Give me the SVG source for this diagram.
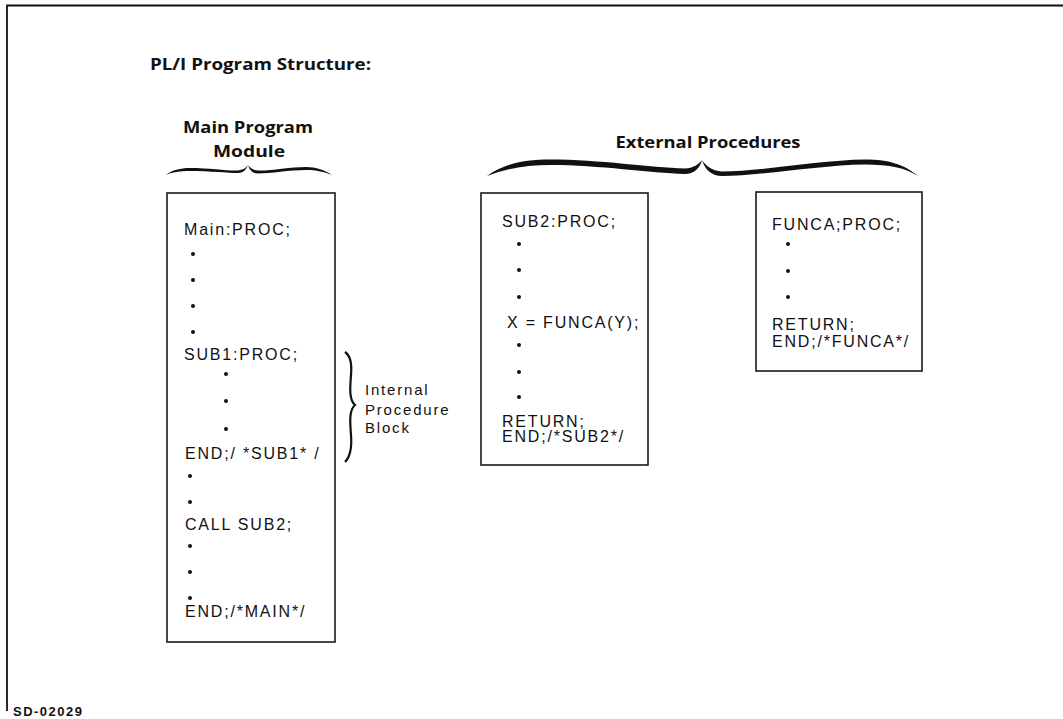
<svg xmlns="http://www.w3.org/2000/svg" width="1063" height="719" viewBox="0 0 1063 719">
<style>
.head{font-family:"Open Sans","Liberation Sans",sans-serif;font-weight:700;fill:#111}
.code{font-family:"Liberation Sans",Arial,sans-serif;font-size:16px;letter-spacing:1.8px;fill:#111}
.lbl{font-family:"Liberation Sans",Arial,sans-serif;font-size:15px;letter-spacing:1.8px;fill:#111}
.box{fill:#fff;stroke:#1a1a1a;stroke-width:1.6}
.dot{fill:#111}
.brace{fill:#111}
</style>
<rect width="1063" height="719" fill="#fff"/>
<g id="frame" fill="none" stroke="#111" stroke-width="1.8">
<path d="M7,711 L7,5.5 L1063,5.5"/>
</g>
<text class="head" x="150" y="70" font-size="15.5" textLength="221" lengthAdjust="spacingAndGlyphs">PL/I Program Structure:</text>
<text class="head" x="248" y="133" font-size="16.5" text-anchor="middle" textLength="130" lengthAdjust="spacingAndGlyphs">Main Program</text>
<text class="head" x="249" y="157" font-size="16.5" text-anchor="middle" textLength="72" lengthAdjust="spacingAndGlyphs">Module</text>
<text class="head" x="708" y="148" font-size="16.5" text-anchor="middle" textLength="185" lengthAdjust="spacingAndGlyphs">External Procedures</text>
<g id="connectors">
<path class="brace" d="M166,175 C172,170 180,168 190,168 C210,168 228,171 238,170.5 C243,170 246,168 248,165 C246,170 243,173 238,173 C228,173 210,171 190,171 C180,171 172,172 166,175 Z"/>
<path class="brace" d="M248,165 C250,168 253,170 258,170.5 C270,171 290,167 306,167 C316,167 325,170 332,175 C325,172 316,170 306,170 C290,170 270,173.5 258,173.5 C253,173.5 250,171 248,165 Z"/>
<path class="brace" d="M487,176 C505,163 525,159.5 550,159.5 C600,159.5 650,167.5 685,168.5 C693,168.5 699,164 702,160 C700,168 694,174 685,174 C650,173 600,165 550,165 C528,165 507,168 487,176 Z"/>
<path class="brace" d="M702,160 C705,165 712,171 722,171.5 C760,171.5 820,160 865,159.5 C890,159.5 905,165 918,176 C905,168 890,164.5 865,164.5 C820,165 760,176 722,176 C712,176 705,170 702,160 Z"/>
<path d="M345,352 C351,356 352,364 351,375 C350,388 349,400 355,405 C349,410 350,422 351,435 C352,448 350,457 345,462" fill="none" stroke="#111" stroke-width="2.2"/>
</g>
<g id="main">
<rect class="box" x="167" y="193" width="168" height="449"/>
<text class="code" x="184" y="235">Main:PROC;</text>
<circle class="dot" cx="193" cy="254" r="2"/>
<circle class="dot" cx="193" cy="280" r="2"/>
<circle class="dot" cx="193" cy="306" r="2"/>
<circle class="dot" cx="193" cy="332" r="2"/>
<text class="code" x="184" y="360">SUB1:PROC;</text>
<circle class="dot" cx="226" cy="374" r="2"/>
<circle class="dot" cx="226" cy="401" r="2"/>
<circle class="dot" cx="226" cy="429" r="2"/>
<text class="code" x="185" y="459">END;/ *SUB1* /</text>
<circle class="dot" cx="190" cy="476" r="2"/>
<circle class="dot" cx="190" cy="502" r="2"/>
<text class="code" x="185" y="530">CALL SUB2;</text>
<circle class="dot" cx="190" cy="546" r="2"/>
<circle class="dot" cx="190" cy="572" r="2"/>
<circle class="dot" cx="190" cy="598" r="2"/>
<text class="code" x="185" y="617">END;/*MAIN*/</text>
</g>
<g id="internal-label">
<text class="lbl" x="365" y="395">Internal</text>
<text class="lbl" x="365" y="415">Procedure</text>
<text class="lbl" x="365" y="433">Block</text>
</g>
<g id="sub2">
<rect class="box" x="481" y="193" width="167" height="272"/>
<text class="code" x="502" y="227">SUB2:PROC;</text>
<circle class="dot" cx="519" cy="244" r="2"/>
<circle class="dot" cx="519" cy="270" r="2"/>
<circle class="dot" cx="519" cy="297" r="2"/>
<text class="code" x="507" y="328">X = FUNCA(Y);</text>
<circle class="dot" cx="519" cy="345" r="2"/>
<circle class="dot" cx="519" cy="372" r="2"/>
<circle class="dot" cx="519" cy="397" r="2"/>
<text class="code" x="502" y="427">RETURN;</text>
<text class="code" x="502" y="442">END;/*SUB2*/</text>
</g>
<g id="funca">
<rect class="box" x="756" y="192" width="166" height="179"/>
<text class="code" x="772" y="230">FUNCA;PROC;</text>
<circle class="dot" cx="788" cy="244" r="2"/>
<circle class="dot" cx="788" cy="271" r="2"/>
<circle class="dot" cx="788" cy="297" r="2"/>
<text class="code" x="772" y="330">RETURN;</text>
<text class="code" x="772" y="347">END;/*FUNCA*/</text>
</g>
<text x="13" y="716" font-family="Liberation Sans,Arial,sans-serif" font-weight="700" font-size="13" textLength="69" fill="#111">SD-02029</text>
</svg>
